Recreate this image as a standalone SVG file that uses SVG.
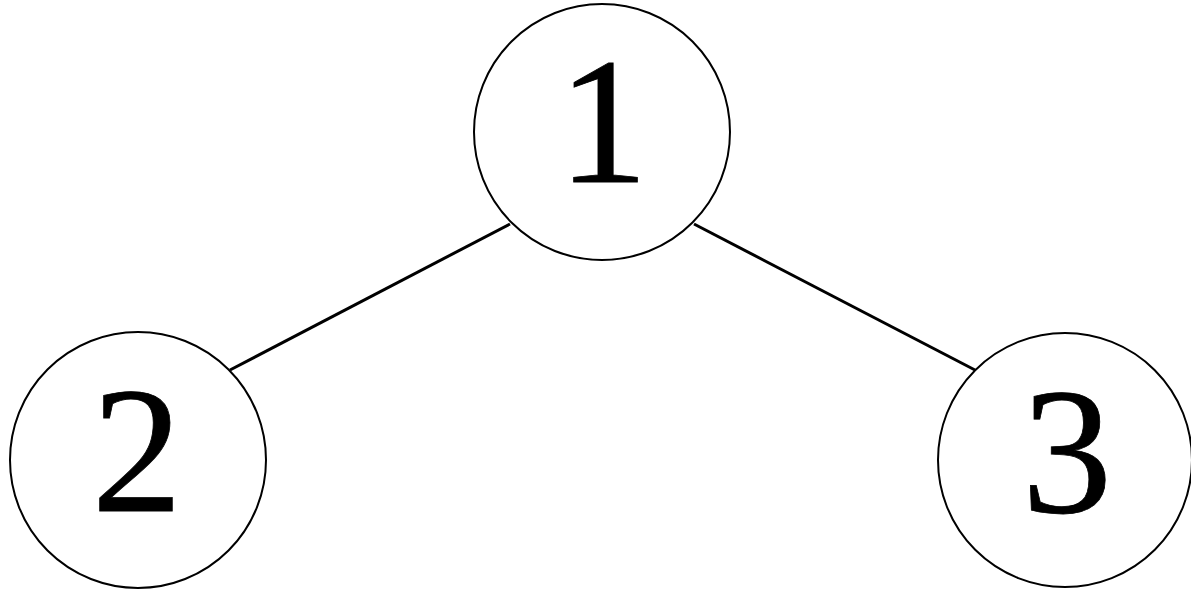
<svg xmlns="http://www.w3.org/2000/svg" width="1191" height="591" viewBox="0 0 1191 591">
<style>
.node circle{fill:#fff;stroke:#000;stroke-width:2}
.node text{font-family:"Liberation Serif","Times New Roman",serif;font-size:181px;fill:#000;stroke:#000;stroke-width:0.8;text-anchor:middle}
.edge{stroke:#000;stroke-width:3;fill:none}
</style>
<rect width="1191" height="591" fill="#fff"/>
<g id="connectors">
<line class="edge" x1="510" y1="224" x2="230" y2="370"/>
<line class="edge" x1="694" y1="224" x2="975" y2="370"/>
</g>
<g id="node1" class="node">
<circle cx="602" cy="132" r="128"/>
<text x="603" y="182">1</text>
</g>
<g id="node2" class="node">
<circle cx="138" cy="460" r="128"/>
<text x="137" y="511">2</text>
</g>
<g id="node3" class="node">
<circle cx="1065" cy="460" r="127"/>
<text x="1067" y="512">3</text>
</g>
</svg>
